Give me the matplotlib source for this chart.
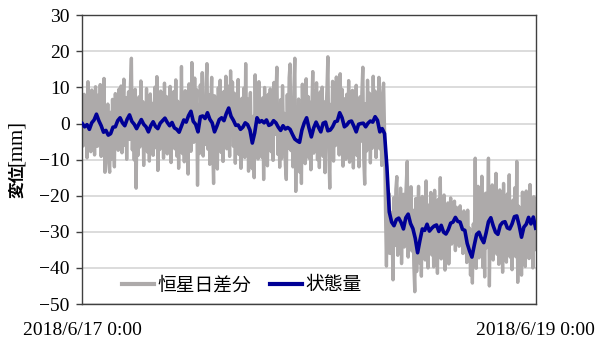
import matplotlib
matplotlib.use("Agg")
import matplotlib.pyplot as plt
import pandas as pd

# 恒星日差分 (6分ごと, 2018/6/17 0:00 - 2018/6/19 0:00)
sidereal_diff = [
    4.5, -6.2, 8.1, -3.4, 6.0, -9.5, 11.6, -5.1, 3.2, -7.8,
    9.3, -4.0, 5.5, -8.7, 10.2, 1.0, -6.3, 7.9, -2.5, 10.8,
    -9.1, 4.2, -6.6, 12.5, -13.5, 2.0, -8.2, 5.4, -11.0, -13.5,
    3.1, -9.8, 6.7, -4.5, -12.0, 8.3, -2.1, 5.9, -7.4, 9.6,
    -5.2, 10.4, -8.1, 4.6, 12.3, -6.0, 7.2, -9.9, 3.8, 8.8,
    -4.4, 10.9, 18.1, -7.3, 5.0, -10.1, 9.5, -17.9, 2.6, -8.8,
    7.4, -6.5, 11.8, -3.2, 6.1, -11.6, 4.4, -5.0, 9.7, -7.9,
    3.5, -10.4, 8.2, -4.0, 5.6, -8.8, 2.4, 10.1, -6.7, 13.0,
    -13.0, 4.7, -7.2, 9.0, -3.3, 6.4, -9.6, 11.2, -2.0, 7.5,
    -8.4, 5.1, -5.9, 10.3, -10.8, 3.6, -4.7, 8.9, -7.0, 12.1,
    -9.0, 6.2, -12.4, 2.9, -5.5, 15.8, -8.3, 4.0, -10.6, 9.1,
    -6.0, 7.8, -14.0, 11.0, 3.2, -7.7, 16.9, 1.5, -5.2, 12.6,
    -4.6, 9.4, -17.1, 5.0, -8.3, 10.7, -2.9, 14.1, -9.0, 6.3,
    -5.8, 11.2, 16.6, -7.1, 8.0, -11.3, 4.9, 12.8, -6.0, -16.6,
    7.7, -9.2, 3.0, -12.6, 9.9, -4.3, 12.0, -8.0, 5.2, -10.5,
    8.9, -3.5, 13.1, -7.0, 10.4, 1.2, -9.1, 14.6, -2.8, 11.5,
    -6.3, 8.4, -11.0, 5.7, -3.9, 12.2, -8.6, 4.1, -12.4, 7.0,
    -4.8, 9.8, -9.4, 16.6, -5.7, 6.8, -13.2, 3.4, 8.6, -7.3,
    -12.5, 2.0, -15.0, 13.5, -3.3, 8.7, -9.8, 11.6, -6.2, 4.5,
    -9.3, 7.1, -15.5, 10.0, -4.4, 5.8, -11.7, 8.1, -2.6, 9.6,
    -7.8, 4.3, -10.2, 11.4, -3.0, 7.9, 15.6, -8.5, 3.2, -12.1,
    6.6, -9.7, 10.5, -4.1, 2.8, -11.4, -15.5, 8.0, -6.9, 12.7,
    16.5, -7.5, 4.0, -12.0, 9.2, 18.1, -18.8, 2.1, -10.3, 6.8,
    -13.4, 5.1, -16.6, 10.9, -4.2, 8.3, -11.1, 12.4, -2.7, 7.5,
    -9.6, 5.9, -12.8, 3.7, 14.4, -8.2, 9.0, -5.4, 11.3, -10.0,
    4.8, -12.2, 8.8, -3.6, 10.1, -9.1, 6.0, -13.6, 2.5, 9.4,
    18.5, -7.9, -17.9, 5.3, -4.0, 11.7, -10.4, 7.2, -6.1, 12.9,
    -5.3, 10.6, -8.7, 13.8, -2.2, 9.5, -11.8, 6.9, 1.4, -9.9,
    8.1, -6.4, 11.9, -10.7, 4.6, -3.4, 9.2, -12.3, 6.5, -5.6,
    10.6, -8.9, 3.3, -12.0, 7.4, -4.9, 8.7, 15.6, -10.0, -16.8,
    5.5, -7.6, 12.0, -3.8, 8.4, -10.9, 4.9, -6.8, 13.1, -2.4,
    9.0, -9.4, 6.2, -4.5, 12.8, -7.0, 3.9, -11.6, 8.5, 11.2,
    -2.0, -24.0, -39.5, -21.0, -35.8, -19.5, -36.0, -24.6, -31.0, -43.3,
    -20.5, -33.8, -18.2, -14.7, -36.5, -22.4, -30.1, -17.9, -38.8, -25.0,
    -19.6, -34.2, -23.0, -16.4, -10.5, -37.0, -21.8, -31.5, -17.5, -35.3,
    -24.0, -39.2, -46.6, -20.8, -41.0, -27.5, -17.4, -38.6, -26.0, -42.3,
    -20.2, -34.5, -24.9, -37.8, -15.9, -31.6, -40.0, -22.6, -33.0, -19.1,
    -36.4, -23.8, -39.7, -18.5, -30.9, -25.2, -41.5, -21.0, -34.8, -15.0,
    -37.5, -24.4, -32.2, -19.8, -40.6, -26.5, -35.0, -22.0, -38.9, -28.0,
    -20.6, -33.4, -24.0, -30.9, -21.5, -35.2, -23.2, -31.0, -25.5, -34.0,
    -22.8, -32.5, -25.0, -36.0, -24.2, -30.8, -26.0, -38.5, -24.0, -35.7,
    -29.0, -42.0, -31.5, -44.2, -27.8, -36.4, -9.6, -40.1, -30.5, -17.4,
    -37.2, -22.4, -33.6, -14.6, -39.8, -25.8, -42.5, -19.3, -34.4, -27.0,
    -9.6, -45.0, -23.0, -33.4, -17.0, -37.8, -20.4, -29.5, -13.8, -36.2,
    -22.1, -39.0, -18.4, -32.7, -25.3, -41.2, -16.6, -35.6, -23.7, -38.4,
    -19.5, -31.8, -14.2, -37.0, -24.6, -40.5, -21.2, -33.3, -17.8, -36.9,
    -10.5, -44.0, -22.9, -38.1, -26.3, -42.0, -19.0, -34.8, -24.1, -39.6,
    -18.7, -33.9, -21.6, -37.4, -16.9, -30.2, -24.8, -40.0, -20.3, -35.0,
    -27.0,
]

# 状態量 (15分ごと)
state = [
    0.0, -0.9, -0.3, -1.6,
    0.2, 1.0, 2.6, 0.8,
    -0.6, -2.4, -1.9, -3.2,
    -2.8, -1.0, -0.9, 0.8,
    1.6, 0.2, -0.6, 1.2,
    2.4, 0.6, -0.2, -1.4,
    -0.1, 1.1, -0.2, -0.9,
    -2.3, -0.6, 0.5, -0.8,
    -1.4, 0.1, 0.8, 1.5,
    0.3, -0.6, 0.3, -1.2,
    -1.6, -2.4, -0.7, 1.0,
    0.4, 2.2, 3.4, 0.6,
    -0.2, -2.3, 1.9, 2.1,
    1.4, 3.0, 1.2, 0.2,
    -2.3, -0.7, 1.1, 1.6,
    0.8, 2.8, 4.3, 2.0,
    0.9, -0.5, -0.4, -1.6,
    -1.0, 0.2, -0.3, -1.8,
    -5.4, -2.6, 1.6, 0.4,
    0.8, 0.2, 1.0, -0.5,
    -0.2, 0.8, 0.2, -1.0,
    -1.9, -0.6, -1.5, -1.1,
    -1.6, -3.0, -4.3, -4.8,
    -5.2, -1.8, 0.2, 1.6,
    -1.2, -3.7, -1.2, 0.4,
    -1.0, -2.3, 0.1, 0.4,
    -2.0, -1.8, -0.9, 0.5,
    0.7, 3.0, 1.6, -0.9,
    -0.4, 0.5, 0.7, -0.7,
    -2.3, -0.2, 0.0, 0.1,
    -0.9, 0.1, 0.7, 0.4,
    1.9, 0.9, -2.3, -1.4,
    -2.8, -12.0, -24.5, -27.3,
    -28.3, -26.6, -26.2, -27.4,
    -29.2, -26.1, -25.1, -27.7,
    -29.1, -31.8, -35.8, -32.3,
    -29.2, -29.6, -27.9, -29.8,
    -29.0, -28.4, -28.1, -29.9,
    -28.2, -30.1, -30.6, -29.4,
    -27.6, -27.3, -26.0, -27.1,
    -27.3, -29.3, -29.6, -33.2,
    -35.3, -37.0, -33.7, -30.7,
    -30.1, -31.8, -33.0, -30.3,
    -27.2, -26.1, -28.3, -30.1,
    -30.7, -28.2, -27.4, -27.2,
    -28.9, -29.2, -27.8, -25.8,
    -25.6, -28.2, -31.5, -28.7,
    -27.9, -26.0, -27.8, -25.9,
    -29.0,
]

t_diff = pd.date_range("2018-06-17 00:00", periods=len(sidereal_diff), freq="6min")
t_state = pd.date_range("2018-06-17 00:00", periods=len(state), freq="15min")
x_ticks = [pd.Timestamp("2018-06-17 00:00"), pd.Timestamp("2018-06-19 00:00")]
x_labels = [f"{d.year}/{d.month}/{d.day} {d.hour}:{d.minute:02d}" for d in x_ticks]

serif = "Liberation Serif"
jp = "Noto Sans CJK JP"

fig = plt.figure(figsize=(5.95, 3.43), dpi=100)
ax = fig.add_axes([0.1383, 0.1137, 0.762, 0.8417])

ax.plot(t_diff, sidereal_diff, color="#ADAAAA", lw=2.4, label="恒星日差分", zorder=2)
ax.plot(t_state, state, color="#000096", lw=2.6, label="状態量", zorder=3)

ax.set_xlim(x_ticks[0], x_ticks[1])
ax.set_ylim(-50, 30)
ax.set_yticks(range(-50, 31, 10))
ax.grid(axis="y", color="#D9D9D9", lw=1.3, zorder=0)
ax.set_axisbelow(True)

for s in ax.spines.values():
    s.set_color("#404040")
    s.set_linewidth(1.0)

ax.set_xticks(x_ticks, x_labels)
ax.tick_params(axis="x", length=0, pad=13)
ax.tick_params(axis="y", length=4, width=1.0, color="#404040", pad=5)
for lab in ax.get_xticklabels() + ax.get_yticklabels():
    lab.set_fontfamily(serif)
    lab.set_fontsize(14)

# 縦軸ラベル: 漢字はゴシック, 単位は明朝
fig.text(17 / 595, 1 - 198 / 343, "変位", rotation=90, ha="center", va="bottom",
         family=jp, fontsize=12, fontweight="bold")
fig.text(17 / 595, 1 - 166 / 343, "[mm]", rotation=90, ha="center", va="bottom",
         family=serif, fontsize=15)

leg = ax.legend(loc="center", bbox_to_anchor=(0.352, 0.066), ncol=2, frameon=False,
                prop={"family": jp, "size": 13.5}, handlelength=1.7,
                handletextpad=0.2, columnspacing=1.0)
for line in leg.get_lines():
    line.set_linewidth(3.0)

fig.savefig("out.png", dpi=100)
